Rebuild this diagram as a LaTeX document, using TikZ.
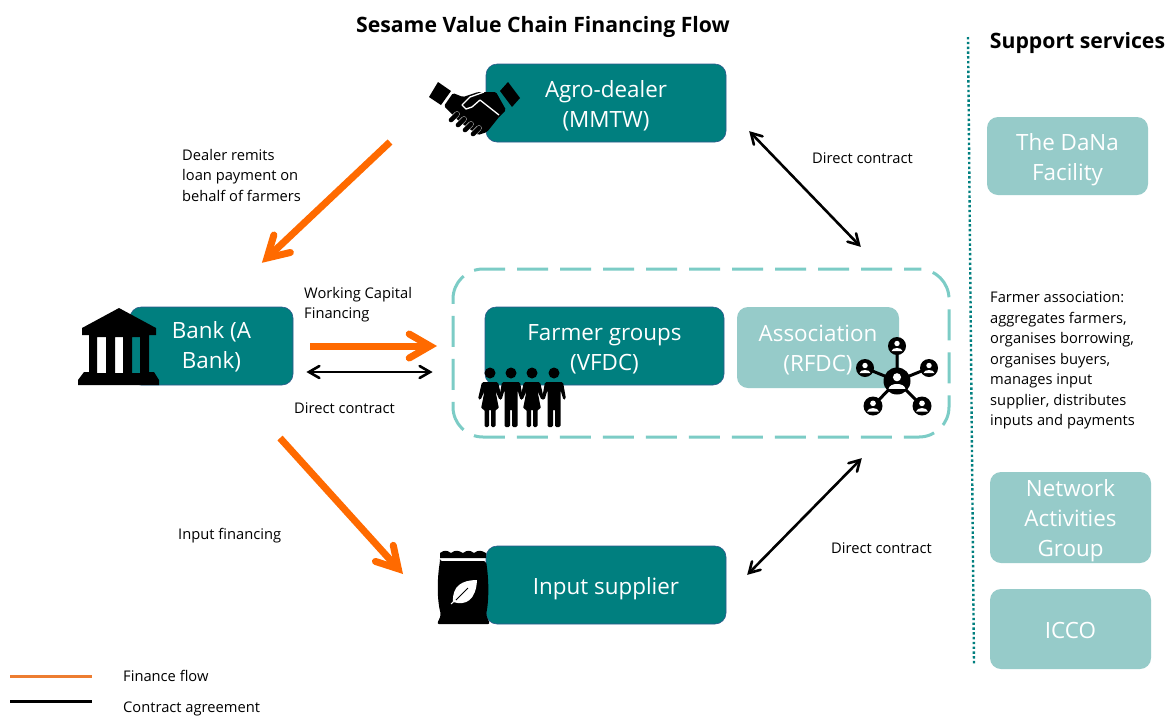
\documentclass[tikz,border=0pt]{standalone}
\usepackage{fontspec}
\setmainfont{Open Sans}
\usetikzlibrary{calc}
\definecolor{teald}{HTML}{007F7F}
\definecolor{teall}{HTML}{96CBC9}
\definecolor{dashc}{HTML}{7CCCC6}
\definecolor{orangef}{HTML}{FF6A00}
\definecolor{orangel}{HTML}{ED7D31}
\definecolor{edged}{HTML}{2F5A8C}
\tikzset{
  boxbase/.style={rounded corners=11pt,align=center,text=white,font=\fontsize{22.4}{30.3}\selectfont,inner sep=0pt},
  dark/.style={boxbase,fill=teald,draw=edged,line width=.6pt},
  light/.style={boxbase,fill=teall},
  lab/.style={font=\fontsize{14.7}{20.5}\selectfont,align=left,anchor=north west,inner sep=0pt,text=black},
  fin/.style={draw=orangef,line width=7pt,line join=miter,miter limit=10},
  finbarb/.style={fin,line cap=round},
  con/.style={draw=black,line width=2.6pt,line join=miter,miter limit=10},
  conbarb/.style={con,line cap=round},
}
\newcommand{\dn}[1]{\rule{0pt}{#1}}
\newcommand{\finhead}[2]{\draw[finbarb] ($(#1)!24pt!30:(#2)$) -- (#1) -- ($(#1)!24pt!-30:(#2)$);}
\newcommand{\conhead}[2]{\draw[conbarb] ($(#1)!12pt!30:(#2)$) -- (#1) -- ($(#1)!12pt!-30:(#2)$);}
\newcommand{\mperson}[2]{%
  \fill[black] (#1,#2) circle (5.5);
  \fill[black,rounded corners=1.5pt] (#1-9,#2+9) -- (#1+9,#2+9) -- (#1+12,#2+26) -- (#1+9.5,#2+27) -- (#1+6.5,#2+17) -- (#1+6.5,#2+54) -- (#1+1,#2+54) -- (#1+1,#2+36) -- (#1-1,#2+36) -- (#1-1,#2+54) -- (#1-6.5,#2+54) -- (#1-6.5,#2+17) -- (#1-9.5,#2+27) -- (#1-12,#2+26) -- cycle;}
\newcommand{\fperson}[2]{%
  \fill[black] (#1,#2) circle (5.5);
  \fill[black,rounded corners=1.5pt] (#1-8,#2+9) -- (#1+8,#2+9) -- (#1+12,#2+26) -- (#1+9.5,#2+27) -- (#1+5.5,#2+18) -- (#1+9,#2+36) -- (#1+5.5,#2+36) -- (#1+5.5,#2+54) -- (#1+1,#2+54) -- (#1+1,#2+36) -- (#1-1,#2+36) -- (#1-1,#2+54) -- (#1-5.5,#2+54) -- (#1-5.5,#2+36) -- (#1-9,#2+36) -- (#1-5.5,#2+18) -- (#1-9.5,#2+27) -- (#1-12,#2+26) -- cycle;}
\newcommand{\netperson}[3]{%
  \fill[black] (#1,#2) circle (#3);
  \fill[white] (#1,#2-#3*0.28) circle (#3*0.3);
  \fill[white] (#1-#3*0.62,#2+#3*0.58) .. controls (#1-#3*0.55,#2+#3*0.1) and (#1+#3*0.55,#2+#3*0.1) .. (#1+#3*0.62,#2+#3*0.58) -- cycle;}
\begin{document}
\begin{tikzpicture}[x=1pt,y=-1pt]
\useasboundingbox (0,0) rectangle (1175,716);
\fill[white] (0,0) rectangle (1175,716);

% title
\node[font=\bfseries\fontsize{21.2}{24}\selectfont,inner sep=0pt] (title) at (543,26.5) {Sesame Value Chain Financing Flow};
\node[font=\bfseries\fontsize{21.2}{24}\selectfont,inner sep=0pt] (support) at (1077.5,42.5) {Support services};

% group frame
\node[draw=dashc,line width=3pt,dash pattern=on 31pt off 12pt,dash phase=16pt,rounded corners=30pt,minimum width=496pt,minimum height=168pt,inner sep=0pt] (group) at (701,353) {};

% boxes
\node[dark,minimum width=240pt,minimum height=78pt] (agro) at (606,103) {\dn{23pt}Agro-dealer\\(MMTW)};
\node[dark,minimum width=163pt,minimum height=78pt] (bank) at (211.5,346) {\dn{19pt}Bank (A\\Bank)};
\node[dark,minimum width=239pt,minimum height=78pt] (farmer) at (604.5,346) {\dn{23pt}Farmer groups\\(VFDC)};
\node[light,minimum width=162pt,minimum height=81pt] (assoc) at (818,347.5) {\dn{21pt}Association\\(RFDC)};
\node[dark,minimum width=240pt,minimum height=78pt] (input) at (606,585) {\dn{25pt}Input supplier};
\node[light,minimum width=161pt,minimum height=78pt] (dana) at (1067.5,156) {\dn{24pt}The DaNa\\Facility};
\node[light,minimum width=161pt,minimum height=91pt] (network) at (1070.5,517.5) {\dn{23pt}Network\\Activities\\Group};
\node[light,minimum width=161pt,minimum height=80pt] (icco) at (1070.5,629) {\dn{19pt}ICCO};

% connector ends
\coordinate (a1) at (390,142);
\coordinate (a2) at (267,258);
\coordinate (b1) at (310,346);
\coordinate (b2) at (430,346);
\coordinate (c1) at (280,438);
\coordinate (c2) at (398.3,568.8);
\coordinate (d1) at (751,133);
\coordinate (d2) at (859,245);
\coordinate (e1) at (309,372);
\coordinate (e2) at (430,372);
\coordinate (f1) at (749,573);
\coordinate (f2) at (860,460);
\draw[fin] (a1) -- (a2); \finhead{a2}{a1}
\draw[fin] (b1) -- (b2); \finhead{b2}{b1}
\draw[fin] (c1) -- (c2); \finhead{c2}{c1}
\draw[con] (d1) -- (d2); \conhead{d1}{d2} \conhead{d2}{d1}
\draw[con] (e1) -- (e2); \conhead{e1}{e2} \conhead{e2}{e1}
\draw[con] (f1) -- (f2); \conhead{f1}{f2} \conhead{f2}{f1}

% divider
\coordinate (v1) at (968,37);
\coordinate (v2) at (974,664);
\draw[teald,line width=2.4pt,dash pattern=on 2.4pt off 2.4pt] (v1) -- (v2);

% labels
\node[lab] (l1) at (182,149) {Dealer remits\\loan payment on\\behalf of farmers};
\node[lab] (l2) at (304,287) {Working Capital\\Financing};
\node[lab] (l3) at (294,403) {Direct contract};
\node[lab] (l4) at (178,528) {Input financing};
\node[lab] (l5) at (812,152.5) {Direct contract};
\node[lab] (l6) at (831,542.5) {Direct contract};
\node[lab] (l7) at (990,292) {Farmer association:\\aggregates farmers,\\organises borrowing,\\organises buyers,\\manages input\\supplier, distributes\\inputs and payments};
\node[lab] (l8) at (123,670) {Finance flow};
\node[lab] (l9) at (123,702) {Contract agreement};

% legend
\coordinate (o1) at (10,676);
\coordinate (o2) at (92,676);
\coordinate (k1) at (10,701);
\coordinate (k2) at (92,701);
\draw[orangel,line width=3pt] (o1) -- (o2);
\draw[black,line width=3pt] (k1) -- (k2);

% bank icon
\fill[black,even odd rule] (119,308) -- (156,328) -- (156,335) -- (149,335) -- (149,372) -- (154,372) -- (159,380) -- (159,385) -- (78,385) -- (78,380) -- (84,372) -- (89,372) -- (89,335) -- (82,335) -- (82,328) -- cycle
  (97,337) rectangle (106,373) (115,337) rectangle (123,373) (132,337) rectangle (140,373);

% handshake icon
\fill[black] (438,82) -- (451,91) -- (441,105) -- (429,97) -- cycle;
\fill[black] (508,82) -- (520,98) -- (512,107) -- (500,91) -- cycle;
\fill[black,rounded corners=1.5pt] (453,93) -- (463,97) -- (478,92) -- (496,92) -- (506,110) -- (499,117) -- (487,132) -- (478,135) -- (460,122) -- (444,106) -- cycle;
\draw[white,line width=5.4pt,line cap=round] (451,120) -- (457,114) (458,125) -- (464,119) (465,130) -- (471,124) (473,134) -- (479,128);
\draw[black,line width=4.6pt,line cap=round] (451,120) -- (457,114) (458,125) -- (464,119) (465,130) -- (471,124) (473,134) -- (479,128);
\draw[white,line width=1.3pt,line join=round] (484,92) -- (470,97) -- (462,105) -- (466,109) -- (472,107) -- (480,100) -- (499,115);
\draw[teald,line width=1.2pt] (497,92) -- (507,108);

% bag icon
\fill[black] (440,553) .. controls (444,550) and (447,550) .. (451,553) .. controls (455,550) and (458,550) .. (463,553) .. controls (467,550) and (470,550) .. (474,553) .. controls (478,550) and (481,550) .. (486,553) -- (486,558) -- (440,558) -- cycle;
\fill[black,rounded corners=2pt] (440,561) -- (486,561) .. controls (489,580) and (489,600) .. (486,615) -- (490,624) -- (437,624) -- (441,615) .. controls (437,600) and (437,580) .. (440,561) -- cycle;
\fill[white] (477,580) .. controls (462,580) and (452,586) .. (453,602) .. controls (466,606) and (476,600) .. (477,580) -- cycle;
\draw[white,line width=1pt] (451,604) -- (468,588);
\draw[black,line width=.8pt] (456,600) -- (468,588);

% people icon
\fperson{490}{373}
\mperson{511}{373}
\fperson{532}{373}
\mperson{554}{373}

% network icon
\draw[black,line width=3pt] (897,346) -- (897,381) (865,368) -- (897,381) (929,368) -- (897,381) (873,406) -- (897,381) (922,406) -- (897,381);
\netperson{897}{346}{9}
\netperson{865}{368}{9}
\netperson{929}{368}{9}
\netperson{873}{406}{9.5}
\netperson{922}{406}{9.5}
\netperson{897}{381}{13.5}
\end{tikzpicture}
\end{document}
